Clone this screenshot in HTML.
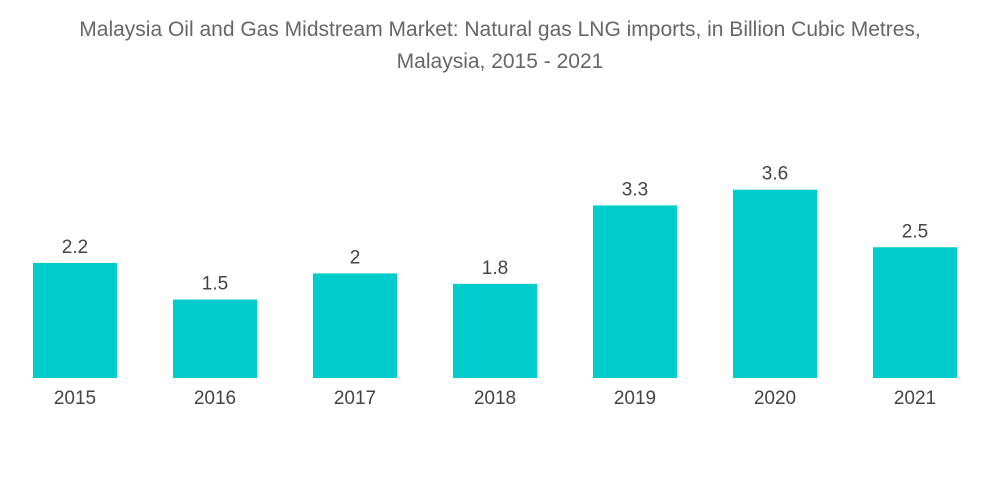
<!DOCTYPE html>
<html><head><meta charset="utf-8">
<style>
body{margin:0;background:#fff;width:1000px;height:504px;overflow:hidden;font-family:"Liberation Sans",sans-serif}
#title{position:absolute;top:14px;left:0;width:1000px;text-align:center;color:#666;font-size:21px;line-height:32px}
</style></head><body>
<div id="title">Malaysia Oil and Gas Midstream Market: Natural gas LNG imports, in Billion Cubic Metres,<br>Malaysia, 2015 - 2021</div>
<svg id="chart" width="1000" height="504" style="position:absolute;top:0;left:0"></svg>
<script>
const categories=["2015","2016","2017","2018","2019","2020","2021"];
const values=[2.2,1.5,2,1.8,3.3,3.6,2.5];
const valueLabels=["2.2","1.5","2","1.8","3.3","3.6","2.5"];
const svg=document.getElementById('chart');
const NS="http://www.w3.org/2000/svg";
const base=378, pxPerUnit=52.3, x0=75, step=140, bw=84;
const xs=i=>x0+i*step;
const ys=v=>base-v*pxPerUnit;
categories.forEach((c,i)=>{
  const r=document.createElementNS(NS,'rect');
  r.setAttribute('x',xs(i)-bw/2);r.setAttribute('y',ys(values[i]));
  r.setAttribute('width',bw);r.setAttribute('height',base-ys(values[i]));
  r.setAttribute('fill','#00cccc');
  
  
  svg.appendChild(r);
  const t=document.createElementNS(NS,'text');
  t.setAttribute('x',xs(i));t.setAttribute('y',ys(values[i])-10);
  t.setAttribute('text-anchor','middle');t.setAttribute('font-size','19');t.setAttribute('fill','#444');
  t.textContent=valueLabels[i];
  
  
  svg.appendChild(t);
  const l=document.createElementNS(NS,'text');
  l.setAttribute('x',xs(i));l.setAttribute('y',404);
  l.setAttribute('text-anchor','middle');l.setAttribute('font-size','19');l.setAttribute('fill','#444');
  l.textContent=c;
  
  
  svg.appendChild(l);
});
</script>
</body></html>
